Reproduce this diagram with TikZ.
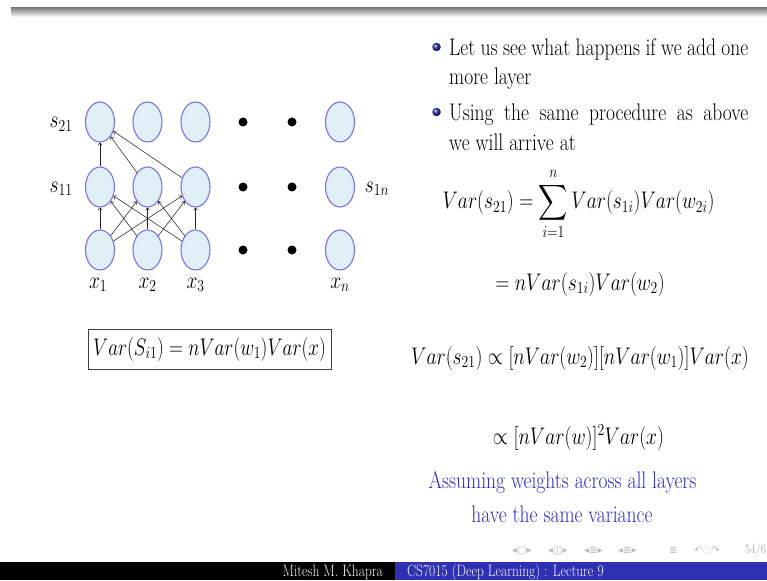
\documentclass[tikz,border=0pt]{standalone}
\usepackage{fix-cm}
\usepackage{amsmath}
\usepackage{graphicx}
\usepackage{fontspec}
\newfontfamily\navfont{DejaVu Sans}
\usetikzlibrary{shapes.geometric,arrows.meta,shadings}
\newcommand{\sqz}[1]{\scalebox{0.815}[1]{#1}}
\definecolor{nodefill}{RGB}{224,239,245}
\definecolor{nodedraw}{RGB}{125,115,230}
\definecolor{bluetxt}{RGB}{45,45,200}
\definecolor{barblue}{RGB}{48,48,180}
\definecolor{ballblue}{RGB}{45,45,165}
\definecolor{navgray}{RGB}{185,185,200}
\begin{document}
\begin{tikzpicture}[x=1pt,y=-1pt,
  neuron/.style={ellipse, draw=nodedraw, fill=nodefill, line width=1.1pt,
    minimum width=29pt, minimum height=40pt, inner sep=0pt},
  bigdot/.style={circle, fill=black, minimum size=9pt, inner sep=0pt},
  edge/.style={-{To[length=3pt,width=4.5pt]}, line width=0.55pt, black!85},
  txt/.style={font=\fontsize{24}{29}\selectfont, inner sep=0pt},
  bluetext/.style={txt, text=bluetxt},
  bulletball/.style={circle, shading=ball, ball color=ballblue, minimum size=8.5pt, inner sep=0pt},
  navsym/.style={font=\navfont\fontsize{10}{11}\selectfont, text=navgray, anchor=base west, inner sep=0pt},
  foot/.style={font=\fontsize{16.5}{18}\selectfont, inner sep=0pt, text=white!92!gray}]
\useasboundingbox (0,0) rectangle (767,580);
\clip (0,0) rectangle (767,580);
\fill[white] (0,0) rectangle (767,580);
% top bar
\shade[top color=black!50, bottom color=white] (11,8) rectangle (767,17);

% network
\foreach \i/\x in {1/100,2/147.5,3/195.5,n/340}{
  \node[neuron] (b\i) at (\x,122) {};
  \node[neuron] (a\i) at (\x,187) {};
  \node[neuron] (x\i) at (\x,250) {};
}
\foreach \r/\y in {1/122,2/187,3/250}{
  \node[bigdot] (d\r a) at (243,\y) {};
  \node[bigdot] (d\r b) at (292,\y) {};
}
\foreach \j in {1,2,3}{
  \foreach \k in {1,2,3}{
    \draw[edge] (x\j) -- (a\k);
  }
  \draw[edge] (a\j) -- (b1);
}
\node[txt, anchor=base] (l21) at (61,128) {\sqz{$s_{21}$}};
\node[txt, anchor=base] (l11) at (61,192) {\sqz{$s_{11}$}};
\node[txt, anchor=base] (l1n) at (377,192) {\sqz{$s_{1n}$}};
\node[txt, anchor=base] (lx1) at (98,288) {\sqz{$x_1$}};
\node[txt, anchor=base] (lx2) at (147.5,288) {\sqz{$x_2$}};
\node[txt, anchor=base] (lx3) at (195.5,288) {\sqz{$x_3$}};
\node[txt, anchor=base] (lxn) at (340,288) {\sqz{$x_n$}};

% boxed formula
\node[txt, draw=black!75, line width=0.8pt, minimum width=243pt, minimum height=40pt]
  (box) at (209.5,349) {\scalebox{0.8}[1]{$Var(S_{i1}) = nVar(w_1)Var(x)$}};

% bullets
\node[bulletball] (bu1) at (436.5,47) {};
\node[bulletball] (bu2) at (436.5,112) {};
\node[txt, anchor=base west] (it1a) at (449,55.5)
  {\sqz{\makebox[367pt][s]{Let us see what happens if we add one}}};
\node[txt, anchor=base west] (it1b) at (449,84.5) {\sqz{more layer}};
\node[txt, anchor=base west] (it2a) at (449,121)
  {\sqz{\makebox[367pt][s]{Using the same procedure as above}}};
\node[txt, anchor=base west] (it2b) at (449,150) {\sqz{we will arrive at}};

% equations
\node[txt, anchor=base] (eq1) at (578.5,208.5)
  {\sqz{$\displaystyle Var(s_{21}) = \sum_{i=1}^{n} Var(s_{1i})Var(w_{2i})$}};
\node[txt, anchor=base] (eq2) at (580,290)
  {\sqz{$= nVar(s_{1i})Var(w_2)$}};
\node[txt, anchor=base] (eq3) at (580,364)
  {\sqz{$Var(s_{21}) \propto [nVar(w_2)][nVar(w_1)]Var(x)$}};
\node[txt, anchor=base] (eq4) at (578.5,444)
  {\sqz{$\propto [nVar(w)]^2Var(x)$}};

\node[bluetext, anchor=base] (bl1) at (562.5,488) {\sqz{Assuming weights across all layers}};
\node[bluetext, anchor=base] (bl2) at (562,522) {\sqz{have the same variance}};

% navigation symbols
\node[navsym] (nav1) at (512,553) {◂□▸};
\node[navsym] (nav2) at (548,553) {◂◫▸};
\node[navsym] (nav3) at (584,553) {◂≣▸};
\node[navsym] (nav4) at (618,553) {◂≣▸};
\node[navsym] (nav5) at (669,553) {≣};
\node[navsym] (nav6) at (694,553) {↶◌↷};
\node[font=\fontsize{13}{14}\selectfont, text=navgray!90!black, anchor=base west, inner sep=0pt]
  (pg) at (745,553) {\sqz{54/6}};

% footer
\fill[black] (0,562) rectangle (395,580);
\fill[barblue] (395,562) rectangle (767,580);
\node[foot, anchor=base east] (auth) at (383,576) {\sqz{Mitesh M. Khapra}};
\node[foot, anchor=base west] (course) at (407,576) {\sqz{CS7015 (Deep Learning) : Lecture 9}};
\end{tikzpicture}
\end{document}
